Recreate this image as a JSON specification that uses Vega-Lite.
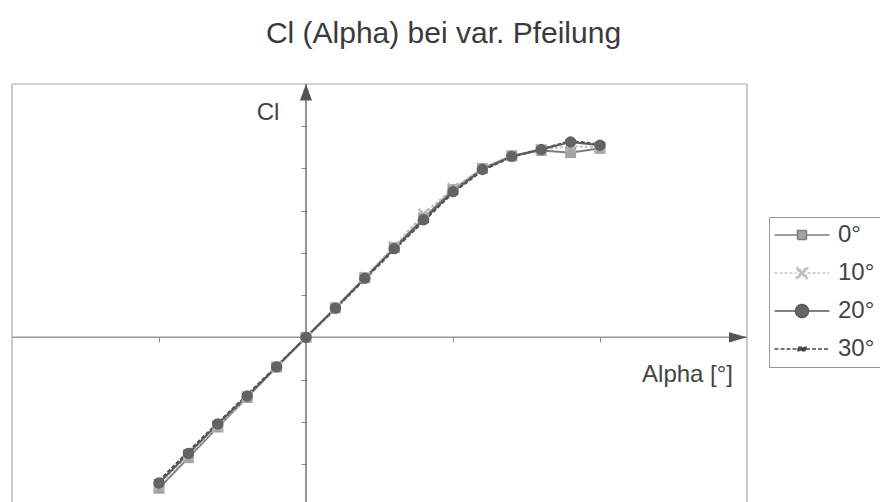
{
  "$schema": "https://vega.github.io/schema/vega-lite/v6.json",
  "width": 735,
  "height": 418,
  "autosize": "none",
  "padding": {"left": 12, "top": 84, "right": 133, "bottom": 0},
  "background": "white",
  "title": {"text": "Cl (Alpha) bei var. Pfeilung", "font": "Liberation Sans", "fontSize": 30, "fontWeight": "normal", "color": "#3a3a3a", "anchor": "middle", "dx": 64, "offset": 34},
  "config": {
    "view": {"stroke": null},
    "font": "Liberation Sans",
    "axis": {"domain": false, "labels": false, "grid": false, "tickColor": "#888", "tickSize": 5, "tickWidth": 1},
    "axisX": {"offset": -165},
    "axisY": {"offset": -294}
  },
  "datasets": {
    "one": [{}],
    "cl": [
    {"series": "0°", "alpha": -10, "cl": -0.715}, {"series": "0°", "alpha": -8, "cl": -0.57}, {"series": "0°", "alpha": -6, "cl": -0.425}, {"series": "0°", "alpha": -4, "cl": -0.285}, {"series": "0°", "alpha": -2, "cl": -0.14}, {"series": "0°", "alpha": 0, "cl": 0}, {"series": "0°", "alpha": 2, "cl": 0.14}, {"series": "0°", "alpha": 4, "cl": 0.282}, {"series": "0°", "alpha": 6, "cl": 0.425}, {"series": "0°", "alpha": 8, "cl": 0.565}, {"series": "0°", "alpha": 10, "cl": 0.7}, {"series": "0°", "alpha": 12, "cl": 0.8}, {"series": "0°", "alpha": 14, "cl": 0.86}, {"series": "0°", "alpha": 16, "cl": 0.885}, {"series": "0°", "alpha": 18, "cl": 0.875}, {"series": "0°", "alpha": 20, "cl": 0.895},
    {"series": "10°", "alpha": -10, "cl": -0.705}, {"series": "10°", "alpha": -8, "cl": -0.56}, {"series": "10°", "alpha": -6, "cl": -0.42}, {"series": "10°", "alpha": -4, "cl": -0.28}, {"series": "10°", "alpha": -2, "cl": -0.14}, {"series": "10°", "alpha": 0, "cl": 0}, {"series": "10°", "alpha": 2, "cl": 0.14}, {"series": "10°", "alpha": 4, "cl": 0.285}, {"series": "10°", "alpha": 6, "cl": 0.43}, {"series": "10°", "alpha": 8, "cl": 0.585}, {"series": "10°", "alpha": 10, "cl": 0.705}, {"series": "10°", "alpha": 12, "cl": 0.8}, {"series": "10°", "alpha": 14, "cl": 0.86}, {"series": "10°", "alpha": 16, "cl": 0.89}, {"series": "10°", "alpha": 18, "cl": 0.905}, {"series": "10°", "alpha": 20, "cl": 0.9},
    {"series": "30°", "alpha": -10, "cl": -0.68}, {"series": "30°", "alpha": -8, "cl": -0.54}, {"series": "30°", "alpha": -6, "cl": -0.405}, {"series": "30°", "alpha": -4, "cl": -0.272}, {"series": "30°", "alpha": -2, "cl": -0.136}, {"series": "30°", "alpha": 0, "cl": 0}, {"series": "30°", "alpha": 2, "cl": 0.135}, {"series": "30°", "alpha": 4, "cl": 0.275}, {"series": "30°", "alpha": 6, "cl": 0.415}, {"series": "30°", "alpha": 8, "cl": 0.55}, {"series": "30°", "alpha": 10, "cl": 0.685}, {"series": "30°", "alpha": 12, "cl": 0.79}, {"series": "30°", "alpha": 14, "cl": 0.855}, {"series": "30°", "alpha": 16, "cl": 0.892}, {"series": "30°", "alpha": 18, "cl": 0.93}, {"series": "30°", "alpha": 20, "cl": 0.915},
    {"series": "20°", "alpha": -10, "cl": -0.69}, {"series": "20°", "alpha": -8, "cl": -0.55}, {"series": "20°", "alpha": -6, "cl": -0.41}, {"series": "20°", "alpha": -4, "cl": -0.278}, {"series": "20°", "alpha": -2, "cl": -0.14}, {"series": "20°", "alpha": 0, "cl": 0}, {"series": "20°", "alpha": 2, "cl": 0.138}, {"series": "20°", "alpha": 4, "cl": 0.28}, {"series": "20°", "alpha": 6, "cl": 0.42}, {"series": "20°", "alpha": 8, "cl": 0.557}, {"series": "20°", "alpha": 10, "cl": 0.69}, {"series": "20°", "alpha": 12, "cl": 0.795}, {"series": "20°", "alpha": 14, "cl": 0.857}, {"series": "20°", "alpha": 16, "cl": 0.89}, {"series": "20°", "alpha": 18, "cl": 0.925}, {"series": "20°", "alpha": 20, "cl": 0.91}
    ]
  },
  "data": {"name": "cl"},
  "layer": [
    {
      "data": {"name": "one"},
      "mark": {"type": "rule", "color": "#a8a8a8", "strokeWidth": 1.2},
      "encoding": {"y": {"datum": 1.2, "type": "quantitative", "scale": {"domain": [-0.78, 1.2]}, "title": null, "axis": {"values": [-0.6, -0.4, -0.2, 0.2, 0.4, 0.6, 0.8, 1.0]}}}
    },
    {
      "data": {"name": "one"},
      "mark": {"type": "rule", "color": "#a8a8a8", "strokeWidth": 1.2},
      "encoding": {"x": {"datum": -20, "type": "quantitative", "scale": {"domain": [-20, 30]}, "title": null, "axis": {"values": [-10, 10, 20]}}}
    },
    {
      "data": {"name": "one"},
      "mark": {"type": "rule", "color": "#a8a8a8", "strokeWidth": 1.2},
      "encoding": {"x": {"datum": 30, "type": "quantitative", "scale": {"domain": [-20, 30]}, "title": null, "axis": {"values": [-10, 10, 20]}}}
    },
    {
      "data": {"name": "one"},
      "mark": {"type": "rule", "color": "#9a9a9a", "strokeWidth": 1.5},
      "encoding": {"y": {"datum": 0, "type": "quantitative", "scale": {"domain": [-0.78, 1.2]}, "title": null, "axis": {"values": [-0.6, -0.4, -0.2, 0.2, 0.4, 0.6, 0.8, 1.0]}}}
    },
    {
      "data": {"name": "one"},
      "mark": {"type": "rule", "color": "#707070", "strokeWidth": 1.5},
      "encoding": {"x": {"datum": 0, "type": "quantitative", "scale": {"domain": [-20, 30]}, "title": null, "axis": {"values": [-10, 10, 20]}}}
    },
    {
      "data": {"name": "one"},
      "mark": {"type": "point", "shape": "M0,0L-2,5.5L2,5.5Z", "size": 36, "filled": true, "color": "#555", "opacity": 1},
      "encoding": {
        "x": {"datum": 0, "type": "quantitative", "scale": {"domain": [-20, 30]}, "title": null, "axis": {"values": [-10, 10, 20]}},
        "y": {"datum": 1.2, "type": "quantitative", "scale": {"domain": [-0.78, 1.2]}, "title": null, "axis": {"values": [-0.6, -0.4, -0.2, 0.2, 0.4, 0.6, 0.8, 1.0]}}
      }
    },
    {
      "data": {"name": "one"},
      "mark": {"type": "point", "shape": "M0,0L-6,-1.7L-6,1.7Z", "size": 36, "filled": true, "color": "#555", "opacity": 1},
      "encoding": {
        "x": {"datum": 30, "type": "quantitative", "scale": {"domain": [-20, 30]}, "title": null, "axis": {"values": [-10, 10, 20]}},
        "y": {"datum": 0, "type": "quantitative", "scale": {"domain": [-0.78, 1.2]}, "title": null, "axis": {"values": [-0.6, -0.4, -0.2, 0.2, 0.4, 0.6, 0.8, 1.0]}}
      }
    },
    {
      "data": {"name": "one"},
      "mark": {"type": "text", "text": "Cl", "font": "Liberation Sans", "fontSize": 24, "color": "#444", "align": "center", "baseline": "alphabetic"},
      "encoding": {
        "x": {"datum": -2.58, "type": "quantitative", "scale": {"domain": [-20, 30]}, "title": null, "axis": {"values": [-10, 10, 20]}},
        "y": {"datum": 1.03, "type": "quantitative", "scale": {"domain": [-0.78, 1.2]}, "title": null, "axis": {"values": [-0.6, -0.4, -0.2, 0.2, 0.4, 0.6, 0.8, 1.0]}}
      }
    },
    {
      "data": {"name": "one"},
      "mark": {"type": "text", "text": "Alpha [°]", "font": "Liberation Sans", "fontSize": 24, "color": "#444", "align": "right", "baseline": "alphabetic"},
      "encoding": {
        "x": {"datum": 29.05, "type": "quantitative", "scale": {"domain": [-20, 30]}, "title": null, "axis": {"values": [-10, 10, 20]}},
        "y": {"datum": -0.212, "type": "quantitative", "scale": {"domain": [-0.78, 1.2]}, "title": null, "axis": {"values": [-0.6, -0.4, -0.2, 0.2, 0.4, 0.6, 0.8, 1.0]}}
      }
    },
    {
      "mark": {"type": "line", "strokeWidth": 2},
      "encoding": {
        "x": {"field": "alpha", "type": "quantitative", "scale": {"domain": [-20, 30]}, "title": null, "axis": {"values": [-10, 10, 20]}},
        "y": {"field": "cl", "type": "quantitative", "scale": {"domain": [-0.78, 1.2]}, "title": null, "axis": {"values": [-0.6, -0.4, -0.2, 0.2, 0.4, 0.6, 0.8, 1.0]}},
        "detail": {"field": "series"},
        "strokeDash": {"field": "series", "type": "nominal", "scale": {"domain": ["0°", "10°", "20°", "30°"], "range": [[1, 0], [3, 2], [1, 0], [4, 2]]}, "legend": null},
        "color": {
          "field": "series", "type": "nominal",
          "scale": {"domain": ["0°", "10°", "20°", "30°"], "range": ["#7d7d7d", "#c2c2c2", "#5a5a5a", "#4a4a4a"]},
          "legend": {
            "title": null, "orient": "none", "legendX": 757, "legendY": 133,
            "strokeColor": "#999", "fillColor": "white", "padding": 6,
            "symbolSize": 100, "symbolStrokeWidth": 1.5, "symbolOffset": 15, "labelOffset": 24,
            "labelFont": "Liberation Sans", "labelFontSize": 24, "labelColor": "#444", "rowPadding": 14
          }
        }
      }
    },
    {
      "transform": [{"filter": "datum.series === '0°'"}],
      "mark": {"type": "point", "shape": "square", "filled": true, "size": 120, "opacity": 1, "fill": "#a3a3a3", "strokeWidth": 0},
      "encoding": {
        "x": {"field": "alpha", "type": "quantitative", "scale": {"domain": [-20, 30]}, "title": null, "axis": {"values": [-10, 10, 20]}},
        "y": {"field": "cl", "type": "quantitative", "scale": {"domain": [-0.78, 1.2]}, "title": null, "axis": {"values": [-0.6, -0.4, -0.2, 0.2, 0.4, 0.6, 0.8, 1.0]}}
      }
    },
    {
      "transform": [{"filter": "datum.series === '10°'"}],
      "mark": {"type": "point", "shape": "M-1,-0.75L-0.75,-1L0,-0.25L0.75,-1L1,-0.75L0.25,0L1,0.75L0.75,1L0,0.25L-0.75,1L-1,0.75L-0.25,0Z", "filled": true, "size": 140, "opacity": 1, "fill": "#b5b5b5", "strokeWidth": 0},
      "encoding": {
        "x": {"field": "alpha", "type": "quantitative", "scale": {"domain": [-20, 30]}, "title": null, "axis": {"values": [-10, 10, 20]}},
        "y": {"field": "cl", "type": "quantitative", "scale": {"domain": [-0.78, 1.2]}, "title": null, "axis": {"values": [-0.6, -0.4, -0.2, 0.2, 0.4, 0.6, 0.8, 1.0]}}
      }
    },
    {
      "transform": [{"filter": "datum.series === '30°'"}],
      "mark": {"type": "point", "shape": "M-1,-0.35H1V0.35H-1Z", "filled": true, "size": 100, "opacity": 1, "fill": "#444444", "strokeWidth": 0},
      "encoding": {
        "x": {"field": "alpha", "type": "quantitative", "scale": {"domain": [-20, 30]}, "title": null, "axis": {"values": [-10, 10, 20]}},
        "y": {"field": "cl", "type": "quantitative", "scale": {"domain": [-0.78, 1.2]}, "title": null, "axis": {"values": [-0.6, -0.4, -0.2, 0.2, 0.4, 0.6, 0.8, 1.0]}}
      }
    },
    {
      "transform": [{"filter": "datum.series === '20°'"}],
      "mark": {"type": "point", "shape": "circle", "filled": true, "size": 130, "opacity": 1, "fill": "#636363", "strokeWidth": 0},
      "encoding": {
        "x": {"field": "alpha", "type": "quantitative", "scale": {"domain": [-20, 30]}, "title": null, "axis": {"values": [-10, 10, 20]}},
        "y": {"field": "cl", "type": "quantitative", "scale": {"domain": [-0.78, 1.2]}, "title": null, "axis": {"values": [-0.6, -0.4, -0.2, 0.2, 0.4, 0.6, 0.8, 1.0]}}
      }
    },
    {
      "transform": [{"filter": "false"}],
      "mark": {"type": "point", "filled": true, "size": 100, "opacity": 1},
      "encoding": {
        "x": {"field": "alpha", "type": "quantitative", "scale": {"domain": [-20, 30]}, "title": null, "axis": {"values": [-10, 10, 20]}},
        "y": {"field": "cl", "type": "quantitative", "scale": {"domain": [-0.78, 1.2]}, "title": null, "axis": {"values": [-0.6, -0.4, -0.2, 0.2, 0.4, 0.6, 0.8, 1.0]}},
        "shape": {"field": "series", "type": "nominal", "scale": {"domain": ["0°", "10°", "20°", "30°"], "range": [
          "M-5.5,0H-0.9M0.9,0H5.5M-0.9,-0.9H0.9V0.9H-0.9Z",
          "M-5.5,0H-1.1M1.1,0H5.5M-1.2,-0.9L-0.9,-1.2L0,-0.3L0.9,-1.2L1.2,-0.9L0.3,0L1.2,0.9L0.9,1.2L0,0.3L-0.9,1.2L-1.2,0.9L-0.3,0Z",
          "M-5.5,0H-1.3M1.3,0H5.5M-1.3,0A1.3,1.3 0 1,0 1.3,0A1.3,1.3 0 1,0 -1.3,0Z",
          "M-5.5,0H-0.8M0.8,0H5.5M-0.8,-0.35H0.8V0.35H-0.8Z"
        ]}, "legend": null},
        "fill": {"field": "series", "type": "nominal", "scale": {"domain": ["0°", "10°", "20°", "30°"], "range": ["#a3a3a3", "#bdbdbd", "#666666", "#444444"]}, "legend": null}
      }
    }
  ]
}
